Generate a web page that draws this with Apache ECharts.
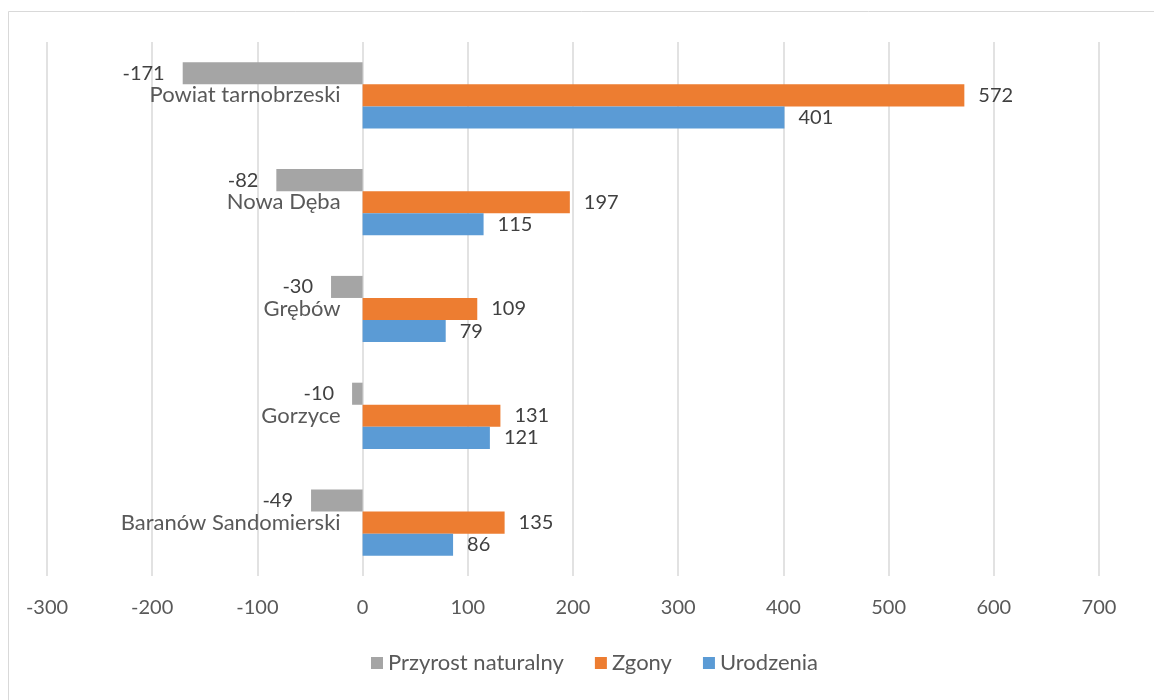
<!DOCTYPE html>
<html>
<head>
<meta charset="utf-8">
<script src="https://cdn.jsdelivr.net/npm/echarts@6/dist/echarts.min.js"></script>
<style>
html,body{margin:0;padding:0;background:#fff;}
#c{width:1154px;height:700px;}
</style>
</head>
<body>
<div id="c"></div>
<script>
const categories = ['Baranów Sandomierski', 'Gorzyce', 'Grębów', 'Nowa Dęba', 'Powiat tarnobrzeski'];
const urodzenia = [86, 121, 79, 115, 401];
const zgony = [135, 131, 109, 197, 572];
const przyrost = [-49, -10, -30, -82, -171];
const legendOrder = ['Przyrost naturalny', 'Zgony', 'Urodzenia'];
const xMin = -300, xMax = 700, xStep = 100;

const FONT = 'Lato';
const W = 1154, GL = 47, GR = 55;
const gridW = W - GL - GR;
const zeroOffset = -gridW * (0 - xMin) / (xMax - xMin);

const chart = echarts.init(document.getElementById('c'), null, {renderer: 'canvas'});

function labelCfg(pos, dist) {
  return {show: true, position: pos, distance: dist, color: '#404040', fontFamily: FONT, fontSize: 20};
}

chart.setOption({
  animation: false,
  backgroundColor: '#fff',
  graphic: [{
    type: 'rect', shape: {x: 8.5, y: 11.5, width: 1300, height: 800},
    style: {fill: 'none', stroke: '#d9d9d9', lineWidth: 1}, silent: true, z: -10
  }],
  grid: {left: GL, right: GR, top: 42, bottom: 124, containLabel: false, outerBoundsMode: 'none'},
  legend: {
    data: legendOrder, bottom: 21, left: 366,
    itemWidth: 12, itemHeight: 12, itemGap: 31, icon: 'rect',
    textStyle: {color: '#595959', fontFamily: FONT, fontSize: 22}
  },
  xAxis: {
    type: 'value', min: xMin, max: xMax, interval: xStep,
    axisLine: {show: false}, axisTick: {show: false},
    axisLabel: {color: '#595959', fontFamily: FONT, fontSize: 20, margin: 22},
    splitLine: {show: true, lineStyle: {color: '#d9d9d9', width: 1.5}}
  },
  yAxis: {
    type: 'category', data: categories, position: 'left', offset: zeroOffset,
    axisLine: {show: false, onZero: false},
    axisTick: {show: false},
    axisLabel: {color: '#595959', fontFamily: FONT, fontSize: 22, margin: 22}
  },
  series: [
    {name: 'Przyrost naturalny', type: 'bar', data: przyrost, barGap: '0%', barCategoryGap: '38%',
      itemStyle: {color: '#a5a5a5'}, label: labelCfg('left', 18)},
    {name: 'Zgony', type: 'bar', data: zgony, barGap: '0%', barCategoryGap: '38%',
      itemStyle: {color: '#ed7d31'}, label: labelCfg('right', 14)},
    {name: 'Urodzenia', type: 'bar', data: urodzenia, barGap: '0%', barCategoryGap: '38%',
      itemStyle: {color: '#5b9bd5'}, label: labelCfg('right', 14)}
  ]
});
</script>
</body>
</html>
